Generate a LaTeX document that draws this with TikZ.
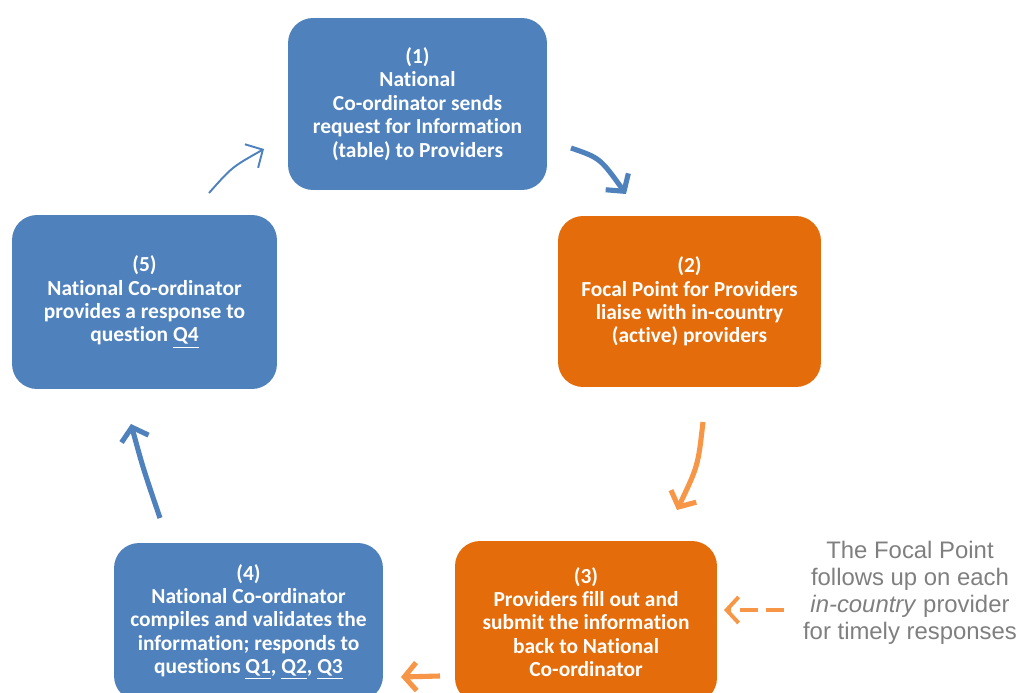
\documentclass[tikz,border=0pt]{standalone}
\usepackage{fontspec}
\setmainfont{Carlito}[Ligatures=NoCommon, RawFeature={-liga}]
\newfontfamily\notefont{Liberation Sans}
\usetikzlibrary{arrows.meta, positioning}
\definecolor{stepblue}{HTML}{4F81BD}
\definecolor{steporange}{HTML}{E46C0A}
\definecolor{flowblue}{HTML}{4F81BD}
\definecolor{floworange}{HTML}{F79646}
\definecolor{notegray}{HTML}{7F7F7F}

\begin{document}
\begin{tikzpicture}[x=0.02cm, y=-0.02cm,
    stepbox/.style={rounded corners=0.5cm, text=white, align=center,
                    inner sep=0pt, font=\bfseries\fontsize{12.2}{13.3}\selectfont},
    bluebox/.style={stepbox, fill=stepblue},
    orangebox/.style={stepbox, fill=steporange},
    thinflow/.style={draw=flowblue, line width=1.1pt,
                     -{Straight Barb[length=2.6mm, width=5.4mm]}},
    thickflow/.style={line width=2.9pt,
                      -{Straight Barb[length=2.4mm, width=5.6mm]}}]
  \useasboundingbox (0,0) rectangle (1018,693);
  \clip (0,0) rectangle (1018,693);

  % process steps
  \node[bluebox, minimum width=5.18cm, minimum height=3.44cm] (s1) at (417.5,104)
    {(1)\\National\\Co-ordinator sends\\request for Information\\(table) to Providers};
  \node[orangebox, minimum width=5.26cm, minimum height=3.42cm] (s2) at (689.5,301.5)
    {(2)\\Focal Point for Providers\\liaise with in-country\\(active) providers};
  \node[orangebox, minimum width=5.24cm, minimum height=3.24cm] (s3) at (586,622)
    {(3)\\Providers fill out and\\submit the information\\back to National\\Co-ordinator};
  \node[bluebox, minimum width=5.38cm, minimum height=3.16cm] (s4) at (248.5,622)
    {(4)\\National Co-ordinator\\compiles and validates the\\information; responds to\\questions \underline{Q1}, \underline{Q2}, \underline{Q3}};
  \node[bluebox, minimum width=5.3cm, minimum height=3.48cm] (s5) at (144.5,302)
    {(5)\\National Co-ordinator\\provides a response to\\question \underline{Q4}};

  % follow-up note
  \node[text=notegray, align=center, font=\notefont\fontsize{13.6}{15.4}\selectfont]
    (note) at (910,593)
    {The Focal Point\\follows up on each\\\textit{in-country} provider\\for timely responses};

  % arrow ends
  \coordinate (f12a) at (571,148);  \coordinate (f12b) at (626,194);
  \coordinate (f23a) at (703,422);  \coordinate (f23b) at (677,510);
  \coordinate (f34a) at (440,676);  \coordinate (f34b) at (401,677);
  \coordinate (f45a) at (160,518);  \coordinate (f45b) at (131,424);
  \coordinate (f51a) at (209,193);  \coordinate (f51b) at (264,149);
  \coordinate (fnta) at (784,610);  \coordinate (fntb) at (724,610);

  \draw[thickflow, draw=flowblue] (f12a) .. controls (600,158) .. (f12b);
  \draw[thickflow, draw=floworange] (f23a) .. controls (698,466) .. (f23b);
  \draw[thickflow, draw=floworange] (f34a) -- (f34b);
  \draw[thickflow, draw=flowblue] (f45a) .. controls (143,468) .. (f45b);
  \draw[thinflow] (f51a) .. controls (232,167) .. (f51b);
  \draw[draw=floworange, line width=2.2pt, dash pattern=on 10pt off 5pt,
        -{Straight Barb[length=2.4mm, width=5.2mm]}] (fnta) -- (fntb);
\end{tikzpicture}
\end{document}
